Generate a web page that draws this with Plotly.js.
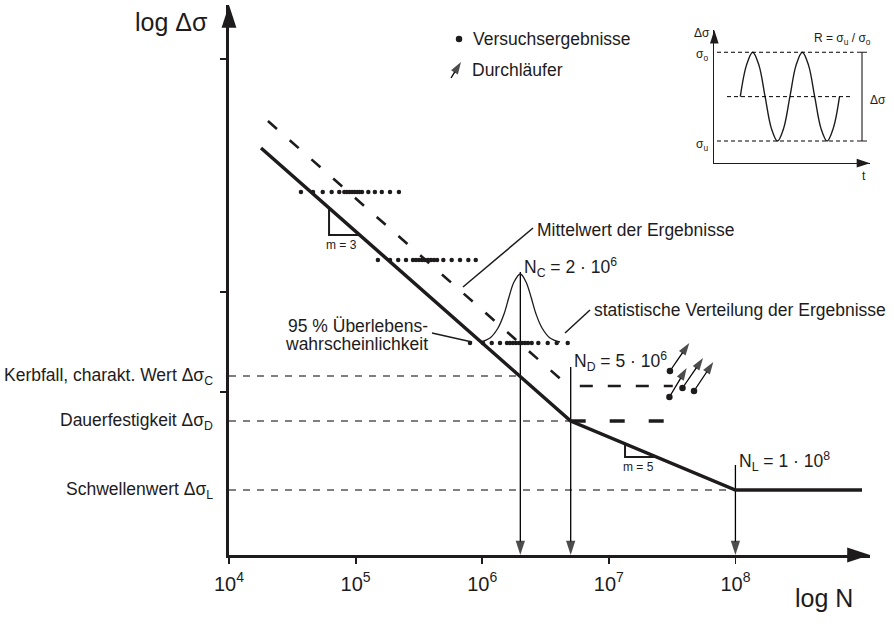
<!DOCTYPE html>
<html><head><meta charset="utf-8">
<script src="https://cdn.plot.ly/plotly-3.0.1.min.js"></script>
<style>html,body{margin:0;padding:0;background:#fff}#chart{width:894px;height:635px}</style>
</head><body><div id="chart"></div>
<script>
// ---------------- data (N = cycles, y = log Δσ, arbitrary units) ----------------
const xTickVals = [1e4, 1e5, 1e6, 1e7, 1e8];
const xTickText = ['10<sup>4</sup>', '10<sup>5</sup>', '10<sup>6</sup>', '10<sup>7</sup>', '10<sup>8</sup>'];
const yTickVals = [4.96, 2.63, 1.63];

const snN = [1.79e4, 2e6, 5e6, 1e8, 1e9];
const snY = [4.07, 1.79, 1.34, 0.65, 0.65];

const meanSlopeN = [2.03e4, 4.7e6];
const meanSlopeY = [4.34, 1.70];
const meanLimitN = [5.9e6, 3.2e7];
const meanLimitY = [1.69, 1.69];
const survLimitN = [5e6, 2.83e7];
const survLimitY = [1.34, 1.34];

const levelNames = ['Kerbfall, charakt. Wert Δσ<sub>C</sub>', 'Dauerfestigkeit Δσ<sub>D</sub>', 'Schwellenwert Δσ<sub>L</sub>'];
const levelY = [1.79, 1.34, 0.65];
const levelEndN = [2e6, 5e6, 1e8];
const levelTopY = [2.83, 1.88, 0.90];

const row1N = [3.70e4, 4.61e4, 5.50e4, 6.47e4, 7.43e4, 8.14e4, 8.55e4, 8.95e4, 9.37e4, 9.80e4, 1.026e5, 1.074e5, 1.123e5, 1.26e5, 1.42e5, 1.61e5, 1.87e5, 2.20e5];
const row1Y = 3.63;
const row2N = [1.50e5, 1.87e5, 2.17e5, 2.50e5, 2.84e5, 3.00e5, 3.17e5, 3.35e5, 3.53e5, 3.73e5, 3.94e5, 4.16e5, 4.40e5, 4.93e5, 5.74e5, 6.68e5, 7.77e5, 8.89e5];
const row2Y = 2.95;
const row3N = [8.01e5, 1.015e6, 1.189e6, 1.382e6, 1.570e6, 1.658e6, 1.751e6, 1.849e6, 1.953e6, 2.063e6, 2.178e6, 2.300e6, 2.460e6, 2.774e6, 3.292e6, 3.877e6, 4.736e6];
const row3Y = 2.12;

const bellN = [9.61e5, 1.152e6, 1.333e6, 1.487e6, 1.628e6, 1.783e6, 2.0e6, 2.218e6, 2.430e6, 2.661e6, 2.968e6, 3.432e6, 4.117e6];
const bellY = [2.13, 2.17, 2.27, 2.41, 2.58, 2.73, 2.81, 2.73, 2.58, 2.41, 2.27, 2.17, 2.13];

const runStartN = [3.04e7, 3.01e7, 3.82e7, 4.71e7];
const runStartY = [1.84, 1.58, 1.67, 1.64];
const runEndN = [4.32e7, 4.12e7, 5.55e7, 6.69e7];
const runEndY = [2.12, 1.87, 1.97, 1.93];

const m3N = [6.17e4, 6.17e4, 1.06e5];
const m3Y = [3.47, 3.20, 3.20];
const m5N = [1.343e7, 1.343e7, 2.36e7];
const m5Y = [1.11, 0.98, 0.98];

const leadMeanN = [7.05e5, 2.52e6], leadMeanY = [2.68, 3.27];
const leadStatN = [4.51e6, 7.10e6], leadStatY = [2.22, 2.45];
const leadSurvN = [4.01e5, 8.31e5], leadSurvY = [2.22, 2.13];

const legendDotN = [6.56e5], legendDotY = [5.16];
const legendArrowN = [5.67e5, 6.80e5], legendArrowY = [4.77, 4.93];

// inset (t in arbitrary units, stress normalized: σo = 1, σu = -1)
const sineT = [26, 32.2, 38.4, 44.6, 50.8, 57, 63.2, 69.4, 75.6, 81.8, 88, 94.2, 100.4, 106.6, 112.8, 119, 125.2];
const sineY = [0, 0.71, 1, 0.71, 0, -0.71, -1, -0.71, 0, 0.71, 1, 0.71, 0, -0.71, -1, -0.71, 0];
const insetUpperT = [2.7, 139.3], insetUpperY = [1, 1];
const insetLowerT = [2.7, 139.3], insetLowerY = [-1, -1];
const insetMidT = [12.7, 137.7], insetMidY = [0, 0];
const bracketT = [142.7, 152.7, 147.7, 147.7, 142.7, 152.7];
const bracketY = [1, 1, 1, -1, -1, -1];

// ---------------- drawing ----------------
const INK = '#1e1b1c';
const FONT = 'Liberation Sans, Arial, sans-serif';
const traces = [];
function ln(x, y, w, dash, extra) {
  traces.push(Object.assign({x: x, y: y, mode: 'lines', cliponaxis: false, hoverinfo: 'skip',
    line: {color: INK, width: w, dash: dash || 'solid'}}, extra || {}));
}
function arrowLine(x, y, w, size) {
  traces.push({x: x, y: y, mode: 'lines+markers', cliponaxis: false, hoverinfo: 'skip',
    line: {color: '#000', width: w},
    marker: {symbol: ['circle', 'arrow'], size: [0, size], angleref: 'previous',
      color: '#000', line: {width: 0}}});
}

// reference dashed levels
for (let i = 0; i < levelY.length; i++) {
  ln([1e4, levelEndN[i]], [levelY[i], levelY[i]], 1.1, '7px,7px', {line: {color: '#000', width: 1.1, dash: '7px,7px'}});
}
// vertical markers with arrows down to axis
for (let i = 0; i < levelEndN.length; i++) {
  arrowLine([levelEndN[i], levelEndN[i]], [levelTopY[i], 0], 1.3, 15);
}
// S-N design curve
ln(snN, snY, 3.5);
// mean curve
ln(meanSlopeN, meanSlopeY, 2.6, '12px,17px');
ln(meanLimitN, meanLimitY, 2.6, '13px,15px');
ln(survLimitN, survLimitY, 3.6, '15px,24px');
// slope triangles
ln(m3N, m3Y, 2);
ln(m5N, m5Y, 2);
// bell curve
traces.push({x: bellN, y: bellY, mode: 'lines', line: {color: INK, width: 1.3, shape: 'spline'}, hoverinfo: 'skip'});
// leader lines
ln(leadMeanN, leadMeanY, 1.5);
ln(leadStatN, leadStatY, 1.5);
ln(leadSurvN, leadSurvY, 1.5);
// test results
[[row1N, row1Y], [row2N, row2Y], [row3N, row3Y]].forEach(function (r) {
  traces.push({x: r[0], y: r[0].map(function () { return r[1]; }), mode: 'markers', hoverinfo: 'skip',
    marker: {color: INK, size: 4.5, symbol: 'circle'}});
});
// run-outs
for (let i = 0; i < runStartN.length; i++) {
  arrowLine([runStartN[i], runEndN[i]], [runStartY[i], runEndY[i]], 1.3, 13);
}
traces.push({x: runStartN, y: runStartY, mode: 'markers', cliponaxis: false, hoverinfo: 'skip',
  marker: {color: INK, size: 6.5, symbol: 'circle'}});
// legend marks
traces.push({x: legendDotN, y: legendDotY, mode: 'markers', marker: {color: INK, size: 6.5}, hoverinfo: 'skip'});
arrowLine(legendArrowN, legendArrowY, 1.3, 13);
// axis arrowheads
traces.push({x: [1e4, Math.pow(10, 9.063)], y: [5.5, 0], mode: 'markers', cliponaxis: false, hoverinfo: 'skip',
  marker: {symbol: 'arrow', size: 24, angle: [0, 90], color: INK, line: {width: 0}}});

// inset
const IX = {xaxis: 'x2', yaxis: 'y2', cliponaxis: false, hoverinfo: 'skip'};
traces.push(Object.assign({x: sineT, y: sineY, mode: 'lines', line: {color: INK, width: 1.4, shape: 'spline'}}, IX));
[[insetUpperT, insetUpperY], [insetLowerT, insetLowerY], [insetMidT, insetMidY]].forEach(function (d) {
  traces.push(Object.assign({x: d[0], y: d[1], mode: 'lines', line: {color: '#000', width: 1, dash: '4px,3px'}}, IX));
});
traces.push(Object.assign({x: bracketT.slice(0, 2), y: bracketY.slice(0, 2), mode: 'lines', line: {color: INK, width: 1.1}}, IX));
traces.push(Object.assign({x: bracketT.slice(2, 4), y: bracketY.slice(2, 4), mode: 'lines', line: {color: INK, width: 1.1}}, IX));
traces.push(Object.assign({x: bracketT.slice(4, 6), y: bracketY.slice(4, 6), mode: 'lines', line: {color: INK, width: 1.1}}, IX));
traces.push(Object.assign({x: [0, 155.7], y: [1.5, -1.5], mode: 'markers',
  marker: {symbol: 'arrow', size: 14, angle: [0, 90], color: INK, line: {width: 0}}}, IX));

function ann(text, x, y, size, xanchor, extra) {
  return Object.assign({text: text, x: x, y: y, xref: 'x', yref: 'y', showarrow: false,
    xanchor: xanchor || 'left', yanchor: 'middle', font: {family: FONT, size: size, color: INK}}, extra || {});
}
const annotations = [
  ann('log Δσ', -0.0296, 5.33, 25, 'right', {xref: 'x domain'}),
  ann('log N', 8.70, -0.078, 25, 'center', {yref: 'y domain'}),
  ann(levelNames[0], -0.0218, levelY[0], 17.5, 'right', {xref: 'x domain'}),
  ann(levelNames[1], -0.0218, levelY[1], 17.5, 'right', {xref: 'x domain'}),
  ann(levelNames[2], -0.0218, levelY[2], 17.5, 'right', {xref: 'x domain'}),
  ann('Versuchsergebnisse', 5.9115, 5.16, 17.5),
  ann('Durchläufer', 5.9036, 4.85, 17.5),
  ann('Mittelwert der Ergebnisse', 6.417, 3.25, 17.5),
  ann('N<sub>C</sub> = 2 · 10<sup>6</sup>', 6.314, 2.88, 17.5),
  ann('statistische Verteilung der Ergebnisse', 6.867, 2.45, 17.5),
  ann('95 % Überlebens-', 5.588, 2.29, 17.5, 'right'),
  ann('wahrscheinlichkeit', 5.588, 2.11, 17.5, 'right'),
  ann('N<sub>D</sub> = 5 · 10<sup>6</sup>', 6.709, 1.94, 17.5),
  ann('N<sub>L</sub> = 1 · 10<sup>8</sup>', 8.013, 0.94, 17.5),
  ann('m = 3', 4.885, 3.10, 12, 'center'),
  ann('m = 5', 7.2306, 0.88, 12, 'center'),
  ann('Δσ', -0.013, 1.435, 12, 'right', {xref: 'x2 domain', yref: 'y2'}),
  ann('σ<sub>o</sub>', -0.079, 0.94, 12, 'center', {xref: 'x2 domain', yref: 'y2'}),
  ann('σ<sub>u</sub>', -0.079, -1.09, 12, 'center', {xref: 'x2 domain', yref: 'y2'}),
  ann('t', 149.3, -0.10, 12, 'center', {xref: 'x2', yref: 'y2 domain'}),
  ann('R = σ<sub>u</sub> / σ<sub>o</sub>', 97.7, 1.30, 12, 'left', {xref: 'x2', yref: 'y2'}),
  ann('Δσ', 154, -0.08, 12, 'left', {xref: 'x2', yref: 'y2'})
];

const layout = {
  width: 894, height: 635,
  margin: {l: 229, r: 24, t: 5, b: 80},
  paper_bgcolor: '#fff', plot_bgcolor: '#fff',
  showlegend: false,
  font: {family: FONT, color: INK},
  xaxis: {type: 'log', range: [4, 9.063], showgrid: false, zeroline: false,
    showline: true, linewidth: 2.6, linecolor: INK,
    ticks: 'outside', ticklen: 6, tickwidth: 1.8, tickcolor: INK,
    tickmode: 'array', tickvals: xTickVals, ticktext: xTickText,
    tickfont: {size: 20, family: FONT, color: INK}, ticklabelstandoff: 3},
  yaxis: {range: [0, 5.5], showgrid: false, zeroline: false,
    showline: true, linewidth: 2.6, linecolor: INK,
    ticks: 'outside', ticklen: 6, tickwidth: 1.8, tickcolor: INK,
    tickmode: 'array', tickvals: yTickVals, showticklabels: false},
  xaxis2: {domain: [0.7571, 1], range: [0, 155.7], anchor: 'y2', showgrid: false, zeroline: false,
    showline: true, linewidth: 1.3, linecolor: INK, showticklabels: false, ticks: ''},
  yaxis2: {domain: [0.7124, 0.9544], range: [-1.5, 1.5], anchor: 'x2', showgrid: false, zeroline: false,
    showline: true, linewidth: 1.3, linecolor: INK, showticklabels: false, ticks: ''},
  annotations: annotations
};
Plotly.newPlot('chart', traces, layout, {displayModeBar: false, staticPlot: true});
</script></body></html>
